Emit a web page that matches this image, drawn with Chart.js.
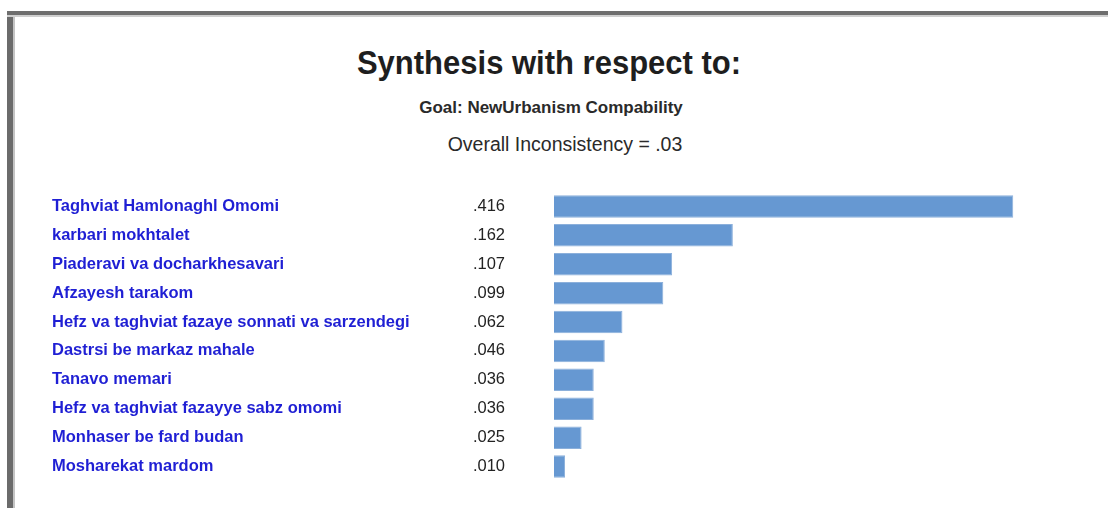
<!DOCTYPE html>
<html>
<head>
<meta charset="utf-8">
<script src="https://cdn.jsdelivr.net/npm/chart.js@4/dist/chart.umd.min.js"></script>
<style>
body { margin:0; background:#fff; font-family:"Liberation Sans", Arial, sans-serif; }
#wrap { position:relative; width:1108px; height:508px; overflow:hidden; background:#fff; }
.frameL { position:absolute; left:7px; top:11px; width:6px; bottom:0; background:#6b6b6b; border-right:2px solid #c4c4c4; }
.frameT { position:absolute; left:7px; top:11px; right:0; height:4px; background:#6e6e6e; border-bottom:2px solid #cfcfcf; }
.txt { position:absolute; width:600px; text-align:center; color:#1e1e1e; white-space:nowrap; }
#t1 { left:249px; top:47px; font-size:31px; line-height:31px; font-weight:bold; transform:scaleY(1.08); }
#t2 { left:251px; top:99px; font-size:17px; line-height:17px; font-weight:bold; color:#2a2a2a; }
#t3 { left:265px; top:135px; font-size:19.5px; line-height:19.5px; color:#2a2a2a; }
canvas { position:absolute; left:0; top:0; }
</style>
</head>
<body>
<div id="wrap">
  <div class="frameL"></div>
  <div class="frameT"></div>
  <div class="txt" id="t1">Synthesis with respect to:</div>
  <div class="txt" id="t2">Goal: NewUrbanism Compability</div>
  <div class="txt" id="t3">Overall Inconsistency = .03</div>
  <canvas id="bars" width="1108" height="508"></canvas>
</div>
<script>
// criteres + poids
const criteres = [
	'Taghviat Hamlonaghl Omomi',
	'karbari mokhtalet',
	'Piaderavi va docharkhesavari',
	'Afzayesh tarakom',
	'Hefz va taghviat fazaye sonnati va sarzendegi',
	'Dastrsi be markaz mahale',
	'Tanavo memari',
	'Hefz va taghviat fazayye sabz omomi',
	'Monhaser be fard budan',
	'Mosharekat mardom'
];
const poids = [0.416, 0.162, 0.107, 0.099, 0.062, 0.046, 0.036, 0.036, 0.025, 0.010];
const poidsLabels = ['.416', '.162', '.107', '.099', '.062', '.046', '.036', '.036', '.025', '.010'];

// pas de padding haut/bas auto sur les axes verticaux
function fixAxis(s, w) {
	s.width = w;
	s.paddingTop = 0;
	s.paddingBottom = 0;
}

new Chart(document.getElementById('bars'), {
	type: 'bar',
	data: {
		labels: criteres,
		datasets: [{
			data: poids,
			backgroundColor: '#6698d2',
			borderColor: '#8cb0db',
			borderWidth: 1,
			barPercentage: 0.78,
			categoryPercentage: 1
		}]
	},
	options: {
		indexAxis: 'y',
		responsive: false,
		animation: false,
		layout: { padding: { left: 52, top: 192, bottom: 27, right: 2 } },
		plugins: {
			legend: { display: false },
			tooltip: { enabled: false }
		},
		scales: {
			x: { display: false, min: 0, max: 0.5 },
			y: {
				weight: 2,
				offset: true,
				grid: { display: false, drawTicks: false },
				border: { display: false },
				ticks: {
					crossAlign: 'far',
					padding: 0,
					autoSkip: false,
					color: '#1f1fd4',
					font: { family: '"Liberation Sans", Arial', size: 16.5, weight: 'bold' }
				},
				afterFit: function (s) { fixAxis(s, 400); }
			},
			yv: {
				type: 'category',
				axis: 'y',
				position: 'left',
				weight: 1,
				offset: true,
				labels: poidsLabels,
				grid: { display: false, drawTicks: false },
				border: { display: false },
				ticks: {
					padding: 49,
					autoSkip: false,
					color: '#222',
					font: { family: '"Liberation Sans", Arial', size: 16.5 }
				},
				afterFit: function (s) { fixAxis(s, 102); }
			}
		}
	}
});
</script>
</body>
</html>
